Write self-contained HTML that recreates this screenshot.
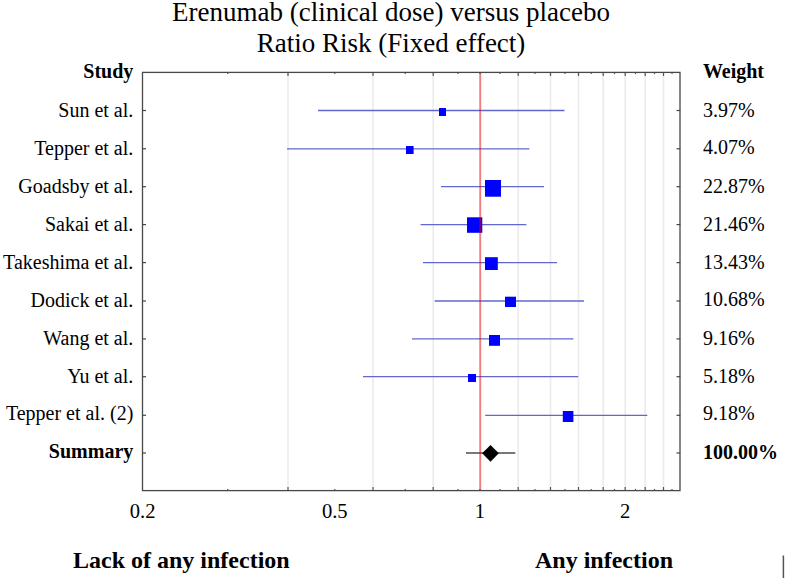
<!DOCTYPE html>
<html><head><meta charset="utf-8"><style>
html,body{margin:0;padding:0;background:#fff;width:787px;height:578px;overflow:hidden}
svg{display:block}
text{font-family:"Liberation Serif",serif;fill:#000}
</style></head><body>
<svg width="787" height="578" viewBox="0 0 787 578">
<rect width="787" height="578" fill="#fff"/>

<text x="391" y="20.5" font-size="27" text-anchor="middle">Erenumab (clinical dose) versus placebo</text>
<text x="391" y="52" font-size="27" text-anchor="middle">Ratio Risk (Fixed effect)</text>
<line x1="288.0" y1="73" x2="288.0" y2="490" stroke="#ebebeb" stroke-width="1.6"/>
<line x1="373.0" y1="73" x2="373.0" y2="490" stroke="#ebebeb" stroke-width="1.6"/>
<line x1="433.2" y1="73" x2="433.2" y2="490" stroke="#ebebeb" stroke-width="1.6"/>
<line x1="518.2" y1="73" x2="518.2" y2="490" stroke="#ebebeb" stroke-width="1.6"/>
<line x1="550.5" y1="73" x2="550.5" y2="490" stroke="#ebebeb" stroke-width="1.6"/>
<line x1="578.5" y1="73" x2="578.5" y2="490" stroke="#ebebeb" stroke-width="1.6"/>
<line x1="603.2" y1="73" x2="603.2" y2="490" stroke="#ebebeb" stroke-width="1.6"/>
<line x1="625.2" y1="73" x2="625.2" y2="490" stroke="#ebebeb" stroke-width="1.6"/>
<line x1="645.2" y1="73" x2="645.2" y2="490" stroke="#ebebeb" stroke-width="1.6"/>
<line x1="663.5" y1="73" x2="663.5" y2="490" stroke="#ebebeb" stroke-width="1.6"/>
<line x1="227.7" y1="72.5" x2="227.7" y2="74.1" stroke="#555" stroke-width="1.2"/>
<line x1="227.7" y1="490.5" x2="227.7" y2="488.9" stroke="#555" stroke-width="1.2"/>
<line x1="288.0" y1="72.5" x2="288.0" y2="76.0" stroke="#555" stroke-width="1.2"/>
<line x1="288.0" y1="490.5" x2="288.0" y2="487.0" stroke="#555" stroke-width="1.2"/>
<line x1="334.8" y1="72.5" x2="334.8" y2="74.1" stroke="#555" stroke-width="1.2"/>
<line x1="334.8" y1="490.5" x2="334.8" y2="488.9" stroke="#555" stroke-width="1.2"/>
<line x1="373.0" y1="72.5" x2="373.0" y2="76.0" stroke="#555" stroke-width="1.2"/>
<line x1="373.0" y1="490.5" x2="373.0" y2="487.0" stroke="#555" stroke-width="1.2"/>
<line x1="405.3" y1="72.5" x2="405.3" y2="74.1" stroke="#555" stroke-width="1.2"/>
<line x1="405.3" y1="490.5" x2="405.3" y2="488.9" stroke="#555" stroke-width="1.2"/>
<line x1="433.2" y1="72.5" x2="433.2" y2="76.0" stroke="#555" stroke-width="1.2"/>
<line x1="433.2" y1="490.5" x2="433.2" y2="487.0" stroke="#555" stroke-width="1.2"/>
<line x1="457.9" y1="72.5" x2="457.9" y2="74.1" stroke="#555" stroke-width="1.2"/>
<line x1="457.9" y1="490.5" x2="457.9" y2="488.9" stroke="#555" stroke-width="1.2"/>
<line x1="480.0" y1="72.5" x2="480.0" y2="74.1" stroke="#555" stroke-width="1.2"/>
<line x1="480.0" y1="490.5" x2="480.0" y2="488.9" stroke="#555" stroke-width="1.2"/>
<line x1="500.0" y1="72.5" x2="500.0" y2="74.1" stroke="#555" stroke-width="1.2"/>
<line x1="500.0" y1="490.5" x2="500.0" y2="488.9" stroke="#555" stroke-width="1.2"/>
<line x1="518.2" y1="72.5" x2="518.2" y2="76.0" stroke="#555" stroke-width="1.2"/>
<line x1="518.2" y1="490.5" x2="518.2" y2="487.0" stroke="#555" stroke-width="1.2"/>
<line x1="535.0" y1="72.5" x2="535.0" y2="74.1" stroke="#555" stroke-width="1.2"/>
<line x1="535.0" y1="490.5" x2="535.0" y2="488.9" stroke="#555" stroke-width="1.2"/>
<line x1="550.5" y1="72.5" x2="550.5" y2="76.0" stroke="#555" stroke-width="1.2"/>
<line x1="550.5" y1="490.5" x2="550.5" y2="487.0" stroke="#555" stroke-width="1.2"/>
<line x1="565.0" y1="72.5" x2="565.0" y2="74.1" stroke="#555" stroke-width="1.2"/>
<line x1="565.0" y1="490.5" x2="565.0" y2="488.9" stroke="#555" stroke-width="1.2"/>
<line x1="578.5" y1="72.5" x2="578.5" y2="76.0" stroke="#555" stroke-width="1.2"/>
<line x1="578.5" y1="490.5" x2="578.5" y2="487.0" stroke="#555" stroke-width="1.2"/>
<line x1="591.2" y1="72.5" x2="591.2" y2="74.1" stroke="#555" stroke-width="1.2"/>
<line x1="591.2" y1="490.5" x2="591.2" y2="488.9" stroke="#555" stroke-width="1.2"/>
<line x1="603.2" y1="72.5" x2="603.2" y2="76.0" stroke="#555" stroke-width="1.2"/>
<line x1="603.2" y1="490.5" x2="603.2" y2="487.0" stroke="#555" stroke-width="1.2"/>
<line x1="614.5" y1="72.5" x2="614.5" y2="74.1" stroke="#555" stroke-width="1.2"/>
<line x1="614.5" y1="490.5" x2="614.5" y2="488.9" stroke="#555" stroke-width="1.2"/>
<line x1="625.2" y1="72.5" x2="625.2" y2="76.0" stroke="#555" stroke-width="1.2"/>
<line x1="625.2" y1="490.5" x2="625.2" y2="487.0" stroke="#555" stroke-width="1.2"/>
<line x1="635.5" y1="72.5" x2="635.5" y2="74.1" stroke="#555" stroke-width="1.2"/>
<line x1="635.5" y1="490.5" x2="635.5" y2="488.9" stroke="#555" stroke-width="1.2"/>
<line x1="645.2" y1="72.5" x2="645.2" y2="76.0" stroke="#555" stroke-width="1.2"/>
<line x1="645.2" y1="490.5" x2="645.2" y2="487.0" stroke="#555" stroke-width="1.2"/>
<line x1="654.5" y1="72.5" x2="654.5" y2="74.1" stroke="#555" stroke-width="1.2"/>
<line x1="654.5" y1="490.5" x2="654.5" y2="488.9" stroke="#555" stroke-width="1.2"/>
<line x1="663.5" y1="72.5" x2="663.5" y2="76.0" stroke="#555" stroke-width="1.2"/>
<line x1="663.5" y1="490.5" x2="663.5" y2="487.0" stroke="#555" stroke-width="1.2"/>
<line x1="672.0" y1="72.5" x2="672.0" y2="74.1" stroke="#555" stroke-width="1.2"/>
<line x1="672.0" y1="490.5" x2="672.0" y2="488.9" stroke="#555" stroke-width="1.2"/>
<line x1="318" y1="110.5" x2="564.5" y2="110.5" stroke="#6068d0" stroke-width="1.3"/>
<rect x="439" y="108" width="7.0" height="8.0" fill="#0000ff"/>
<line x1="287" y1="148.8" x2="529.4" y2="148.8" stroke="#6068d0" stroke-width="1.3"/>
<rect x="406" y="146" width="7.6" height="8.0" fill="#0000ff"/>
<line x1="441" y1="186.7" x2="544" y2="186.7" stroke="#6068d0" stroke-width="1.3"/>
<rect x="485" y="180" width="16.0" height="16.7" fill="#0000ff"/>
<line x1="420.6" y1="224.6" x2="526.4" y2="224.6" stroke="#6068d0" stroke-width="1.3"/>
<rect x="467" y="217.3" width="15.3" height="15.5" fill="#0000ff"/>
<line x1="423" y1="262.6" x2="557" y2="262.6" stroke="#6068d0" stroke-width="1.3"/>
<rect x="485" y="257.2" width="12.8" height="12.8" fill="#0000ff"/>
<line x1="434.7" y1="301" x2="584" y2="301" stroke="#6068d0" stroke-width="1.3"/>
<rect x="505" y="296.7" width="11.0" height="10.3" fill="#0000ff"/>
<line x1="412" y1="338.9" x2="573.4" y2="338.9" stroke="#6068d0" stroke-width="1.3"/>
<rect x="489" y="335" width="11.0" height="10.8" fill="#0000ff"/>
<line x1="363" y1="376.7" x2="578.2" y2="376.7" stroke="#6068d0" stroke-width="1.3"/>
<rect x="468" y="374" width="8.0" height="8.0" fill="#0000ff"/>
<line x1="485.2" y1="415.3" x2="647.3" y2="415.3" stroke="#6068d0" stroke-width="1.3"/>
<rect x="562.8" y="411" width="10.6" height="11.0" fill="#0000ff"/>
<line x1="466" y1="453" x2="515.3" y2="453" stroke="#787878" stroke-width="1.8"/>
<polygon points="482.2,453.2 490.5,445 498.8,453.2 490.5,461.8" fill="#000"/>
<line x1="480.2" y1="73" x2="480.2" y2="490" stroke="#e00000" stroke-opacity="0.5" stroke-width="1.9"/>
<rect x="142.5" y="72.4" width="537.5" height="418.2" fill="none" stroke="#484848" stroke-width="1.3"/>
<line x1="142.5" y1="110.5" x2="146" y2="110.5" stroke="#454545" stroke-width="1.2"/>
<line x1="680.3" y1="110.5" x2="676.5" y2="110.5" stroke="#454545" stroke-width="1.2"/>
<line x1="142.5" y1="148.8" x2="146" y2="148.8" stroke="#454545" stroke-width="1.2"/>
<line x1="680.3" y1="148.8" x2="676.5" y2="148.8" stroke="#454545" stroke-width="1.2"/>
<line x1="142.5" y1="186.7" x2="146" y2="186.7" stroke="#454545" stroke-width="1.2"/>
<line x1="680.3" y1="186.7" x2="676.5" y2="186.7" stroke="#454545" stroke-width="1.2"/>
<line x1="142.5" y1="224.6" x2="146" y2="224.6" stroke="#454545" stroke-width="1.2"/>
<line x1="680.3" y1="224.6" x2="676.5" y2="224.6" stroke="#454545" stroke-width="1.2"/>
<line x1="142.5" y1="262.6" x2="146" y2="262.6" stroke="#454545" stroke-width="1.2"/>
<line x1="680.3" y1="262.6" x2="676.5" y2="262.6" stroke="#454545" stroke-width="1.2"/>
<line x1="142.5" y1="301" x2="146" y2="301" stroke="#454545" stroke-width="1.2"/>
<line x1="680.3" y1="301" x2="676.5" y2="301" stroke="#454545" stroke-width="1.2"/>
<line x1="142.5" y1="338.9" x2="146" y2="338.9" stroke="#454545" stroke-width="1.2"/>
<line x1="680.3" y1="338.9" x2="676.5" y2="338.9" stroke="#454545" stroke-width="1.2"/>
<line x1="142.5" y1="376.7" x2="146" y2="376.7" stroke="#454545" stroke-width="1.2"/>
<line x1="680.3" y1="376.7" x2="676.5" y2="376.7" stroke="#454545" stroke-width="1.2"/>
<line x1="142.5" y1="415.3" x2="146" y2="415.3" stroke="#454545" stroke-width="1.2"/>
<line x1="680.3" y1="415.3" x2="676.5" y2="415.3" stroke="#454545" stroke-width="1.2"/>
<line x1="142.5" y1="453" x2="146" y2="453" stroke="#454545" stroke-width="1.2"/>
<line x1="680.3" y1="453" x2="676.5" y2="453" stroke="#454545" stroke-width="1.2"/>
<text x="133.3" y="78" font-size="20" font-weight="bold" text-anchor="end">Study</text>
<text x="702.9" y="77.8" font-size="20" font-weight="bold">Weight</text>
<text x="133.3" y="116.8" font-size="20" text-anchor="end">Sun et al.</text>
<text x="702.9" y="116.9" font-size="20">3.97%</text>
<text x="133.3" y="155.2" font-size="20" text-anchor="end">Tepper et al.</text>
<text x="702.9" y="154.4" font-size="20">4.07%</text>
<text x="133.3" y="192.9" font-size="20" text-anchor="end">Goadsby et al.</text>
<text x="702.9" y="192.9" font-size="20">22.87%</text>
<text x="133.3" y="230.6" font-size="20" text-anchor="end">Sakai et al.</text>
<text x="702.9" y="230.5" font-size="20">21.46%</text>
<text x="133.3" y="268.6" font-size="20" text-anchor="end">Takeshima et al.</text>
<text x="702.9" y="268.7" font-size="20">13.43%</text>
<text x="133.3" y="306.7" font-size="20" text-anchor="end">Dodick et al.</text>
<text x="702.9" y="306.4" font-size="20">10.68%</text>
<text x="133.3" y="344.8" font-size="20" text-anchor="end">Wang et al.</text>
<text x="702.9" y="344.8" font-size="20">9.16%</text>
<text x="133.3" y="382.5" font-size="20" text-anchor="end">Yu et al.</text>
<text x="702.9" y="382.5" font-size="20">5.18%</text>
<text x="133.3" y="419.6" font-size="20" text-anchor="end">Tepper et al. (2)</text>
<text x="702.9" y="419.9" font-size="20">9.18%</text>
<text x="133.3" y="458" font-size="20" font-weight="bold" text-anchor="end">Summary</text>
<text x="702.9" y="459.2" font-size="20" font-weight="bold">100.00%</text>
<text x="142.7" y="517.6" font-size="20.6" text-anchor="middle">0.2</text>
<text x="334.8" y="517.6" font-size="20.6" text-anchor="middle">0.5</text>
<text x="480.0" y="517.6" font-size="20.6" text-anchor="middle">1</text>
<text x="625.2" y="517.6" font-size="20.6" text-anchor="middle">2</text>
<text x="73" y="567.6" font-size="24" font-weight="bold">Lack of any infection</text>
<text x="535" y="567.6" font-size="24" font-weight="bold">Any infection</text>
<line x1="783.4" y1="555.5" x2="783.4" y2="578" stroke="#555" stroke-width="1.5"/>
</svg></body></html>
